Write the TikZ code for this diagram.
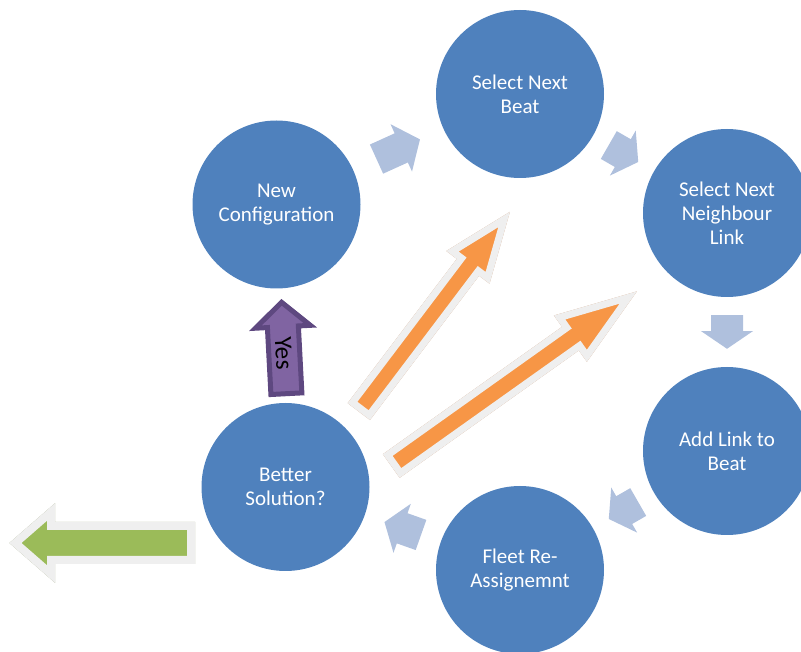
\documentclass[tikz,border=0pt]{standalone}
\usepackage{fontspec}
\setmainfont{Carlito}
\usetikzlibrary{calc}

\definecolor{stepblue}{HTML}{4F81BD}
\definecolor{cyclefill}{HTML}{AFC0DD}
\definecolor{orangefill}{HTML}{F79646}
\definecolor{orangeshade}{HTML}{CFA282}
\definecolor{rimgray}{HTML}{EFEFEF}
\definecolor{greenfill}{HTML}{9BBB59}
\definecolor{greenshade}{HTML}{A4AC8A}
\definecolor{purplefill}{HTML}{8064A2}
\definecolor{purplerim}{HTML}{5E4880}

\tikzset{
  stepnode/.style={circle, fill=stepblue, minimum size=168pt, inner sep=0pt,
    text=white, align=center, font=\fontsize{21}{24}\selectfont},
  orangeshadow/.style={xshift=2.5pt, yshift=-3pt, fill=orangeshade, draw=orangeshade,
    line width=7pt, line join=miter},
  orangebody/.style={fill=orangefill, draw=rimgray, line width=7pt, line join=miter},
  greenshadow/.style={xshift=3pt, yshift=-3pt, fill=greenshade, draw=greenshade,
    line width=8pt, line join=miter},
  greenbody/.style={fill=greenfill, draw=rimgray, line width=8pt, line join=miter},
  purplebody/.style={fill=purplefill, draw=purplerim, line width=5pt, line join=miter},
}

% block arrow from #1 (tail) to #2 (tip): shaft half width #3,
% head half width #4, head length #5, drawn with style #6
\newcommand\blockarrow[6]{%
  \path let \p1=($(#2)-(#1)$) in \pgfextra{%
    \pgfmathsetmacro\baA{atan2(\y1,\x1)}%
    \pgfmathsetmacro\baL{veclen(\x1,\y1)}%
    \global\let\baA\baA\global\let\baL\baL};
  \path[#6, shift={(#1)}, rotate=\baA]
    (0,-#3) -- (\baL-#5,-#3) -- (\baL-#5,-#4) -- (\baL,0)
    -- (\baL-#5,#4) -- (\baL-#5,#3) -- (0,#3) -- cycle;}

% short cycle arrow halfway between two step circles
\newcommand\cyclink[2]{%
  \path let \p1=($(#2)-(#1)$) in \pgfextra{%
    \pgfmathsetmacro\clA{atan2(\y1,\x1)}%
    \pgfmathsetmacro\clL{0.48*(veclen(\x1,\y1)-168)}%
    \pgfmathsetmacro\clH{0.2*\clL+11}%
    \global\let\clA\clA\global\let\clL\clL\global\let\clH\clH};
  \fill[cyclefill, shift={($(#1)!0.5!(#2)$)}, rotate=\clA]
    (-\clL/2,-16) -- (\clL/2-\clH,-16) -- (\clL/2-\clH,-26) -- (\clL/2,0)
    -- (\clL/2-\clH,26) -- (\clL/2-\clH,16) -- (-\clL/2,16) -- cycle;}

\begin{document}
\begin{tikzpicture}[x=1pt,y=1pt]
\useasboundingbox (0,0) rectangle (801,651);

% steps of the search cycle
\node[stepnode] (NC) at (276.5,446.5) {New\\Configuration};
\node[stepnode] (SB) at (520,557) {Select Next\\Beat};
\node[stepnode] (SN) at (727,438) {Select Next\\Neighbour\\Link};
\node[stepnode] (AL) at (727,200) {Add Link to\\Beat};
\node[stepnode] (FR) at (520,81) {Fleet Re-\\Assignemnt};
\node[stepnode] (BS) at (285.5,164) {Better\\Solution?};

% cycle arrows
\cyclink{NC}{SB}
\cyclink{SB}{SN}
\cyclink{SN}{AL}
\cyclink{AL}{FR}
\cyclink{FR}{BS}

% loop-back arrows
\coordinate (back1t) at (360.9,242.2);
\coordinate (back1h) at (504.1,431.5);
\coordinate (back2t) at (394.1,187.0);
\coordinate (back2h) at (628.3,353.5);
\blockarrow{back1t}{back1h}{10.5}{22}{56.5}{orangeshadow}
\blockarrow{back1t}{back1h}{10.5}{22}{56.5}{orangebody}
\blockarrow{back2t}{back2h}{11}{23.5}{67.5}{orangeshadow}
\blockarrow{back2t}{back2h}{11}{23.5}{67.5}{orangebody}

% exit arrow
\coordinate (exitt) at (191,108);
\coordinate (exith) at (15.4,108);
\blockarrow{exitt}{exith}{17}{31}{35.6}{greenshadow}
\blockarrow{exitt}{exith}{17}{31}{35.6}{greenbody}

% yes arrow
\coordinate (yest) at (286.4,257.3);
\coordinate (yesh) at (281.6,348.7);
\blockarrow{yest}{yesh}{15.5}{27.5}{24.5}{purplebody}
\node[rotate=-87, font=\fontsize{25}{28}\selectfont, inner sep=0pt] (yes) at (283.6,297.7) {Yes};
\end{tikzpicture}
\end{document}
